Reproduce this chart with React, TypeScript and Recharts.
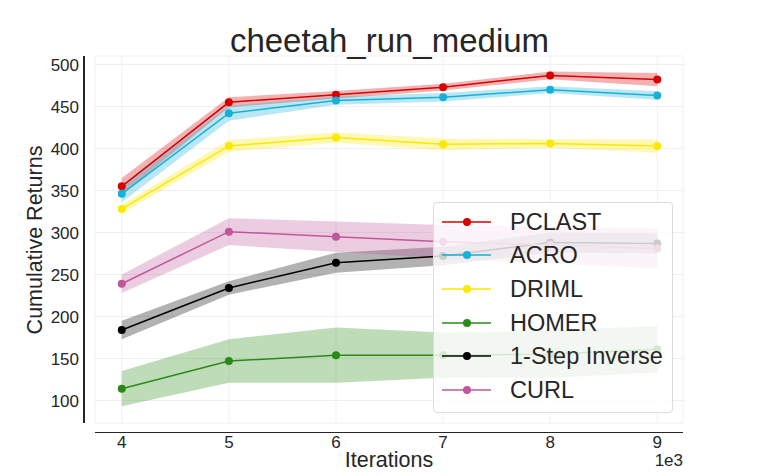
import { Area, CartesianGrid, ComposedChart, Line, XAxis, YAxis } from 'recharts';

const iterations = [4, 5, 6, 7, 8, 9];
const xTicks = [4, 5, 6, 7, 8, 9];
const yTicks = [100, 150, 200, 250, 300, 350, 400, 450, 500];

const pclastMean = [355, 455, 464, 473, 487, 482];
const pclastSpread = [10, 6, 4.5, 4, 4.5, 8];
const acroMean = [346, 442, 457, 461, 470, 463];
const acroSpread = [10, 9, 5, 5, 4, 5];
const drimlMean = [328, 403, 413, 405, 406, 403];
const drimlSpread = [5, 7, 6, 7, 5, 8];
const homerMean = [114, 147, 154, 154, 155, 161];
const homerSpread = [21, 26, 33, 27, 28, 28];
const inverseMean = [184, 234, 264, 272, 288, 287];
const inverseSpread = [11, 8, 12, 11, 12, 12];
const curlMean = [239, 301, 295, 289, 285, 281];
const curlSpread = [11, 16, 18, 20, 22, 24];

const series = [
  { key: 'pclast', name: 'PCLAST', color: '#d60000', mean: pclastMean, spread: pclastSpread },
  { key: 'acro', name: 'ACRO', color: '#17b1d8', mean: acroMean, spread: acroSpread },
  { key: 'driml', name: 'DRIML', color: '#fbe900', mean: drimlMean, spread: drimlSpread },
  { key: 'homer', name: 'HOMER', color: '#2a8a18', mean: homerMean, spread: homerSpread },
  { key: 'inverse', name: '1-Step Inverse', color: '#000000', mean: inverseMean, spread: inverseSpread },
  { key: 'curl', name: 'CURL', color: '#c1579b', mean: curlMean, spread: curlSpread },
];

const data = iterations.map((it, i) => {
  const row: Record<string, number | number[]> = { it };
  series.forEach((s) => {
    row[s.key] = s.mean[i];
    row[s.key + 'Band'] = [s.mean[i] - s.spread[i], s.mean[i] + s.spread[i]];
  });
  return row;
});

const font = '"Liberation Sans", Arial, sans-serif';
const ink = '#262626';

export default function App() {
  return (
    <div style={{ position: 'absolute', left: 0, top: 0, width: 761, height: 476, fontFamily: font, color: ink }}>
      <ComposedChart width={761} height={476} data={data} margin={{ top: 56, right: 78, bottom: 23, left: 35 }}>
        <CartesianGrid stroke="#f0f0f0" strokeWidth={1} />
        <XAxis
          dataKey="it"
          type="number"
          domain={[3.75, 9.24]}
          ticks={xTicks}
          height={30}
          axisLine={false}
          tickLine={false}
          tickMargin={7}
          tick={{ fontSize: 17, fill: ink, fontFamily: font }}
        />
        <YAxis
          type="number"
          domain={[73.2, 510.1]}
          ticks={yTicks}
          width={60}
          axisLine={false}
          tickLine={false}
          tickMargin={10}
          tick={{ fontSize: 17, fill: ink, fontFamily: font }}
        />
        {series.map((s) => [
          <Area
            key={s.key + 'Band'}
            dataKey={s.key + 'Band'}
            type="linear"
            fill={s.color}
            fillOpacity={0.3}
            stroke="none"
            isAnimationActive={false}
          />,
          <Line
            key={s.key}
            dataKey={s.key}
            type="linear"
            stroke={s.color}
            strokeWidth={1.5}
            dot={{ r: 4, fill: s.color, stroke: s.color, strokeWidth: 0 }}
            activeDot={false}
            isAnimationActive={false}
          />,
        ])}
      </ComposedChart>

      {/* offset spines */}
      <div style={{ position: 'absolute', left: 83, top: 56, width: 1.5, height: 367, background: ink }} />
      <div style={{ position: 'absolute', left: 95, top: 431.5, width: 588, height: 1.5, background: ink }} />

      <div style={{ position: 'absolute', left: 0, width: 779, top: 22, textAlign: 'center', fontSize: 33, lineHeight: '38px' }}>
        cheetah_run_medium
      </div>
      <div style={{ position: 'absolute', left: 95, width: 588, top: 447, textAlign: 'center', fontSize: 21.5, lineHeight: '26px' }}>
        Iterations
      </div>
      <div style={{ position: 'absolute', right: 761 - 683, top: 454, fontSize: 17, lineHeight: '14px' }}>1e3</div>
      <div
        style={{
          position: 'absolute',
          left: 35,
          top: 240,
          fontSize: 21.5,
          lineHeight: '26px',
          whiteSpace: 'nowrap',
          transform: 'translate(-50%, -50%) rotate(-90deg)',
        }}
      >
        Cumulative Returns
      </div>

      <div
        style={{
          position: 'absolute',
          left: 433,
          top: 202,
          width: 238,
          height: 207,
          background: 'rgba(255,255,255,0.8)',
          border: '1px solid #dddddd',
          borderRadius: 4,
          paddingTop: 2,
        }}
      >
        {series.map((s) => (
          <div key={s.key} style={{ display: 'flex', alignItems: 'center', height: 33.6 }}>
            <svg width={76} height={20} style={{ flex: 'none' }}>
              <line x1={8} x2={57} y1={10} y2={10} stroke={s.color} strokeWidth={1.5} />
              <circle cx={33} cy={10} r={4} fill={s.color} />
            </svg>
            <span style={{ fontSize: 23.5, lineHeight: '26px', whiteSpace: 'nowrap' }}>{s.name}</span>
          </div>
        ))}
      </div>
    </div>
  );
}
